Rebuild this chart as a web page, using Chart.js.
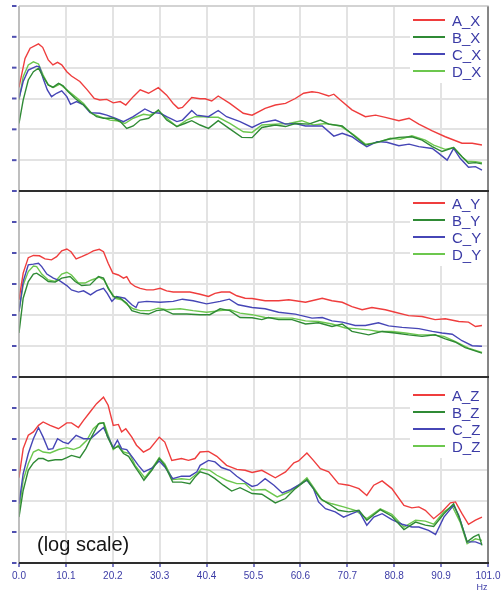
<!DOCTYPE html>
<html>
<head>
<meta charset="utf-8">
<script src="https://cdn.jsdelivr.net/npm/chart.js@4.4.0/dist/chart.umd.min.js"></script>
<style>
  html, body { margin: 0; padding: 0; background: #fff; }
  #wrap { position: relative; width: 504px; height: 591px; overflow: hidden; }
  canvas { position: absolute; left: 0; }
</style>
</head>
<body>
<div id="wrap">
  <canvas id="panelX"></canvas>
  <canvas id="panelY"></canvas>
  <canvas id="panelZ"></canvas>
</div>
<script>
// Data: [frequency Hz, level in grid divisions (log scale, bottom = 0)]
const A_X = [[0,3.36],[1.3,4.3],[2.4,4.63],[4.2,4.77],[5.1,4.66],[6.3,4.25],[7.3,4.09],[8.3,4.17],[9.2,4.09],[10.3,3.87],[11.3,3.73],[13.1,3.55],[14.7,3.28],[16.2,3.0],[17.4,2.95],[18.9,2.97],[20.3,2.86],[21.8,2.9],[23.0,2.79],[24.6,3.06],[26.1,3.28],[27.9,3.17],[30.0,3.35],[31.8,3.11],[33.2,2.84],[34.3,2.68],[35.2,2.71],[37.2,3.03],[39.0,2.99],[40.1,2.99],[41.5,2.92],[42.9,3.08],[45.4,2.84],[48.3,2.52],[50.2,2.46],[53.0,2.68],[55.2,2.79],[57.4,2.84],[59.5,3.0],[61.3,3.17],[63.1,3.22],[64.5,3.19],[66.7,3.08],[67.8,3.14],[69.2,2.95],[71.7,2.63],[74.6,2.41],[76.8,2.46],[78.9,2.39],[81.8,2.28],[84.0,2.36],[86.1,2.17],[89.0,1.95],[91.8,1.76],[95.4,1.55],[97.6,1.55],[99.7,1.49]];
const B_X = [[0,2.19],[0.9,2.95],[2.0,3.6],[3.1,3.87],[4.2,3.98],[5.2,3.71],[6.3,3.44],[7.3,3.36],[8.5,3.49],[9.5,3.41],[10.6,3.22],[12.1,3.0],[13.9,2.79],[15.3,2.57],[16.7,2.41],[18.2,2.36],[20.3,2.36],[21.8,2.25],[23.2,2.03],[24.6,2.11],[26.1,2.3],[27.9,2.36],[30.0,2.63],[31.8,2.3],[34.0,2.09],[35.7,2.19],[37.2,2.28],[39.0,2.14],[40.8,2.03],[42.9,2.28],[44.7,2.09],[48.0,1.74],[50.2,1.73],[52.3,2.06],[55.2,2.14],[57.4,2.09],[59.5,2.19],[62.4,2.17],[64.9,2.3],[66.7,2.17],[69.6,2.11],[72.4,1.76],[74.6,1.49],[76.8,1.57],[79.6,1.68],[81.8,1.74],[84.6,1.76],[86.8,1.65],[89.0,1.44],[91.1,1.28],[93.6,1.41],[95.4,1.11],[96.8,0.9],[98.3,0.92],[99.7,0.88]];
const C_X = [[0,3.0],[0.9,3.55],[2.0,3.92],[3.8,4.05],[4.4,4.03],[5.2,3.65],[6.1,3.28],[7.0,3.06],[8.1,3.17],[9.2,3.25],[10.3,3.06],[11.1,2.81],[12.4,2.9],[13.9,2.79],[15.3,2.54],[17.4,2.52],[18.9,2.46],[20.7,2.36],[22.5,2.25],[24.6,2.41],[27.1,2.66],[28.6,2.55],[30.4,2.52],[31.8,2.41],[34.0,2.25],[35.2,2.3],[37.2,2.61],[38.3,2.46],[40.8,2.41],[42.9,2.61],[44.7,2.41],[47.6,2.25],[50.2,2.06],[52.3,2.22],[55.2,2.3],[57.4,2.17],[59.5,2.19],[61.7,2.11],[65.3,2.11],[67.8,1.78],[69.6,1.87],[71.7,1.76],[73.2,1.6],[74.9,1.44],[77.1,1.6],[79.2,1.58],[81.8,1.47],[84.0,1.52],[86.1,1.44],[89.0,1.38],[90.4,1.22],[92.2,1.0],[93.6,1.38],[95.0,1.06],[96.8,0.77],[98.3,0.79],[99.7,0.68]];
const D_X = [[0,2.95],[0.9,3.71],[2.0,4.09],[3.1,4.19],[4.2,4.12],[5.2,3.76],[6.3,3.44],[7.4,3.36],[8.8,3.47],[10.3,3.28],[12.1,3.06],[13.9,2.84],[15.6,2.52],[17.4,2.41],[19.6,2.3],[21.0,2.28],[22.8,2.19],[24.6,2.36],[26.8,2.49],[28.2,2.46],[30.0,2.61],[31.8,2.36],[34.0,2.09],[36.1,2.3],[37.9,2.41],[39.7,2.41],[41.1,2.39],[42.9,2.39],[45.4,2.19],[48.3,1.92],[50.2,1.9],[52.3,2.14],[55.2,2.17],[58.1,2.19],[60.9,2.28],[63.4,2.14],[66.0,2.19],[69.2,2.11],[72.1,1.82],[74.6,1.52],[77.1,1.57],[80.0,1.71],[82.1,1.68],[84.6,1.79],[87.5,1.65],[89.3,1.49],[91.8,1.35],[93.6,1.41],[95.4,1.11],[96.5,0.97],[98.3,0.95],[99.7,0.92]];

const A_Y = [[0,2.49],[0.9,3.35],[2.0,3.85],[3.1,3.92],[4.4,3.91],[5.6,3.81],[7.0,3.78],[8.1,3.88],[9.2,4.07],[10.3,4.13],[11.2,4.04],[12.3,3.81],[13.5,3.88],[14.7,3.96],[16.0,4.07],[17.3,4.12],[18.2,4.04],[19.2,3.67],[20.2,3.35],[21.4,3.29],[22.5,3.19],[23.2,3.24],[24.0,3.03],[25.0,2.92],[26.1,2.86],[27.5,2.81],[28.9,2.81],[30.4,2.86],[31.8,2.78],[33.2,2.74],[35.0,2.74],[36.8,2.74],[39.0,2.67],[40.8,2.6],[42.2,2.7],[43.6,2.74],[45.4,2.74],[46.9,2.62],[48.7,2.54],[50.2,2.53],[53.0,2.46],[55.9,2.46],[58.1,2.49],[61.7,2.41],[65.3,2.54],[67.4,2.46],[69.6,2.41],[71.7,2.27],[73.9,2.17],[76.0,2.24],[78.9,2.17],[81.0,2.09],[83.9,1.98],[86.8,1.95],[89.6,1.85],[91.8,1.88],[94.7,1.79],[96.8,1.77],[98.3,1.63],[99.7,1.66]];
const B_Y = [[0,1.42],[0.9,2.54],[2.0,3.08],[3.1,3.32],[3.8,3.35],[4.9,3.24],[6.3,3.08],[7.8,3.06],[9.2,3.19],[11.0,3.24],[12.1,3.08],[13.5,2.95],[15.3,2.97],[17.1,3.24],[18.2,3.19],[19.2,2.86],[20.3,2.6],[21.8,2.54],[23.2,2.38],[24.3,2.14],[26.1,2.06],[27.9,2.03],[29.6,2.14],[31.1,2.17],[33.2,2.03],[36.1,2.03],[39.0,2.01],[41.1,2.01],[43.3,2.2],[45.4,2.14],[47.6,1.92],[50.2,1.91],[52.3,1.85],[53.7,1.92],[55.9,1.85],[58.8,1.85],[61.7,1.71],[64.5,1.75],[67.4,1.63],[69.6,1.71],[71.7,1.47],[75.3,1.36],[78.2,1.47],[81.0,1.42],[83.9,1.36],[86.8,1.31],[89.6,1.36],[91.8,1.23],[93.9,1.13],[96.1,0.95],[99.7,0.77]];
const C_Y = [[0,2.11],[0.9,3.08],[2.0,3.62],[3.1,3.64],[4.2,3.67],[4.9,3.56],[6.0,3.32],[7.4,3.19],[8.8,3.1],[10.3,2.95],[11.3,2.81],[12.8,2.74],[13.9,2.78],[15.4,2.65],[16.7,2.78],[18.2,2.86],[19.0,2.7],[20.0,2.44],[21.0,2.6],[22.8,2.54],[24.3,2.33],[25.2,2.24],[25.7,2.41],[27.5,2.44],[30.4,2.41],[33.2,2.44],[35.2,2.51],[37.5,2.46],[40.4,2.36],[43.3,2.44],[45.3,2.51],[47.2,2.33],[50.2,2.24],[53.0,2.2],[55.9,2.09],[59.5,2.03],[63.1,1.9],[65.3,1.92],[67.4,1.81],[69.6,1.77],[72.4,1.66],[74.6,1.66],[77.4,1.75],[79.6,1.65],[82.5,1.6],[86.1,1.56],[89.0,1.47],[91.1,1.42],[93.3,1.38],[95.4,1.17],[97.6,1.01],[99.7,0.99]];
const D_Y = [[0,2.11],[0.9,2.97],[2.0,3.4],[3.1,3.58],[3.8,3.56],[4.9,3.32],[6.3,3.13],[7.8,3.08],[9.2,3.32],[10.3,3.38],[11.3,3.29],[12.8,3.03],[14.2,3.03],[15.6,3.13],[17.3,3.22],[18.3,3.13],[19.5,2.81],[20.7,2.54],[22.1,2.49],[23.5,2.31],[24.6,2.2],[26.1,2.14],[28.2,2.14],[30.0,2.22],[31.8,2.17],[34.7,2.2],[37.5,2.14],[40.4,2.09],[43.3,2.14],[45.4,2.17],[47.6,2.06],[50.2,2.01],[53.0,1.92],[55.9,1.9],[58.8,1.9],[61.7,1.81],[64.5,1.79],[67.4,1.71],[70.3,1.58],[72.4,1.56],[75.3,1.52],[77.4,1.47],[80.3,1.47],[83.2,1.42],[86.1,1.36],[89.0,1.36],[91.5,1.31],[93.9,1.15],[96.8,0.93],[99.7,0.79]];

const A_Z = [[0,2.75],[0.9,3.69],[2.0,4.12],[3.1,4.23],[4.2,4.44],[5.2,4.55],[6.7,4.44],[8.5,4.33],[10.3,4.52],[11.3,4.52],[12.8,4.37],[13.9,4.6],[15.3,4.87],[16.7,5.14],[18.2,5.35],[19.2,5.09],[20.3,4.44],[21.4,4.47],[22.1,4.23],[23.0,4.33],[24.3,4.06],[25.3,3.8],[26.8,3.58],[28.2,3.69],[30.2,4.06],[31.4,3.9],[32.9,3.31],[35.0,3.37],[36.5,3.31],[37.9,3.37],[39.0,3.58],[40.8,3.6],[42.6,3.44],[44.7,3.15],[46.9,3.02],[48.7,2.99],[50.2,2.92],[52.3,2.99],[55.2,2.75],[57.4,2.94],[59.2,3.23],[60.2,3.29],[62.0,3.55],[63.4,3.31],[64.9,3.04],[66.7,2.94],[68.8,2.56],[71.0,2.51],[73.2,2.4],[74.9,2.18],[76.4,2.51],[78.2,2.65],[80.3,2.4],[82.9,1.86],[84.6,1.78],[86.1,1.81],[87.5,1.7],[89.3,1.43],[91.1,1.65],[92.9,1.94],[94.0,1.97],[95.4,1.59],[96.8,1.25],[98.3,1.38],[99.7,1.48]];
const B_Z = [[0,1.48],[0.9,2.34],[2.0,2.99],[3.1,3.23],[4.2,3.37],[5.2,3.37],[6.3,3.29],[7.8,3.33],[9.2,3.33],[10.3,3.4],[11.3,3.47],[13.1,3.4],[14.4,3.69],[15.6,4.06],[17.1,4.49],[18.2,4.52],[19.0,4.09],[20.3,3.69],[21.4,3.76],[22.5,3.53],[23.6,3.44],[25.0,3.1],[26.1,2.86],[26.9,2.67],[28.6,2.99],[30.2,3.37],[31.4,3.15],[33.1,2.61],[35.0,2.61],[36.8,2.56],[37.9,2.77],[39.0,2.94],[40.8,2.86],[42.2,2.72],[44.0,2.51],[45.8,2.32],[47.6,2.43],[50.2,2.24],[52.3,2.22],[55.2,1.94],[57.4,2.08],[59.5,2.4],[62.0,2.69],[63.4,2.4],[64.9,2.08],[66.7,1.91],[68.8,1.7],[71.0,1.65],[73.2,1.7],[74.9,1.38],[77.8,1.72],[80.3,1.51],[82.9,1.08],[85.4,1.32],[87.5,1.22],[89.3,1.18],[91.5,1.59],[93.6,1.91],[95.0,1.38],[96.5,0.68],[97.9,0.84],[99.0,0.92],[99.7,0.57]];
const C_Z = [[0,1.91],[0.9,2.88],[2.0,3.53],[3.1,4.01],[4.2,4.37],[5.2,4.06],[6.3,3.66],[7.3,3.69],[8.3,4.01],[9.5,3.9],[10.6,3.85],[12.3,4.12],[13.9,4.01],[15.4,4.01],[17.1,4.23],[18.2,4.37],[19.2,4.06],[20.3,3.72],[21.2,3.96],[22.1,3.69],[23.2,3.66],[24.5,3.4],[25.7,3.15],[26.9,2.94],[28.6,3.06],[30.2,3.29],[31.4,3.1],[33.1,2.72],[35.0,2.8],[36.8,2.8],[38.3,2.94],[39.0,3.15],[40.8,3.31],[42.2,3.26],[43.6,3.08],[45.4,2.99],[46.9,2.8],[48.7,2.61],[50.2,2.47],[51.3,2.51],[53.0,2.72],[54.9,2.51],[56.7,2.26],[58.5,2.37],[60.2,2.51],[62.0,2.67],[63.4,2.4],[64.5,1.97],[66.0,1.75],[68.1,1.65],[69.9,1.48],[71.7,1.59],[73.2,1.68],[74.9,1.22],[76.4,1.48],[78.2,1.59],[80.3,1.4],[82.5,1.25],[84.6,1.16],[86.1,1.16],[88.2,1.05],[89.7,0.92],[91.5,1.48],[93.6,1.86],[94.7,1.54],[96.5,0.68],[98.3,0.68],[99.7,0.6]];
const D_Z = [[0,1.7],[0.9,2.67],[2.0,3.2],[3.1,3.58],[4.2,3.66],[5.2,3.58],[6.7,3.55],[8.5,3.66],[10.3,3.72],[11.7,3.66],[13.1,3.74],[14.6,3.96],[16.0,4.33],[17.4,4.52],[18.3,4.52],[19.2,4.12],[20.3,3.66],[21.4,3.8],[22.5,3.58],[23.8,3.53],[25.0,3.15],[26.1,2.94],[27.1,2.75],[28.6,3.04],[30.2,3.4],[31.4,3.2],[33.1,2.69],[35.0,2.72],[36.8,2.69],[38.3,2.88],[39.3,3.04],[41.1,2.99],[42.6,2.83],[44.7,2.67],[46.9,2.56],[48.7,2.56],[50.2,2.35],[53.0,2.37],[55.6,2.13],[58.1,2.29],[60.2,2.51],[62.0,2.75],[63.4,2.45],[65.3,2.02],[67.4,1.91],[69.9,1.81],[72.4,1.7],[74.9,1.43],[77.8,1.75],[80.3,1.57],[82.9,1.16],[85.4,1.38],[87.5,1.35],[89.3,1.25],[91.5,1.65],[93.3,1.83],[95.0,1.32],[96.5,0.62],[98.3,0.78],[99.7,0.73]];

const xTicks = [0, 10.1, 20.2, 30.3, 40.4, 50.5, 60.6, 70.7, 80.8, 90.9, 101.0];
const seriesNames = ['A', 'B', 'C', 'D'];

// Styles
const lineColors = ['#ef3d3d', '#2f8a35', '#4646b6', '#6cc74e'];
const textBlue = '#3b3ba6';
const gridColor = '#e3e3e3';

// Draws legend, frame, y tick dashes and notes
const panelDeco = {
  id: 'panelDeco',
  afterDraw(chart, args, opts) {
    const ctx = chart.ctx;
    const a = chart.chartArea;
    const yScale = chart.scales.y;
    ctx.save();

    // legend
    ctx.fillStyle = '#fff';
    ctx.fillRect(410, a.top + 1, a.right - 411, opts.legendTop + 62);
    chart.data.datasets.forEach((ds, i) => {
      const y = a.top + opts.legendTop + i * 17;
      ctx.strokeStyle = ds.borderColor;
      ctx.lineWidth = 2;
      ctx.beginPath();
      ctx.moveTo(413, y);
      ctx.lineTo(445, y);
      ctx.stroke();
      ctx.fillStyle = textBlue;
      ctx.font = '15px "Liberation Sans", Arial, sans-serif';
      ctx.textBaseline = 'alphabetic';
      ctx.fillText(ds.label, 452, y + 6);
    });

    // frame
    ctx.lineWidth = 1.2;
    ctx.strokeStyle = '#a6a6a6';
    ctx.beginPath();
    ctx.moveTo(a.left, a.top);
    ctx.lineTo(a.left, a.bottom);
    ctx.stroke();
    ctx.strokeStyle = '#6e6e6e';
    ctx.lineWidth = 1.6;
    ctx.beginPath();
    ctx.moveTo(a.right, a.top);
    ctx.lineTo(a.right, a.bottom);
    ctx.stroke();
    ctx.strokeStyle = opts.topColor;
    ctx.lineWidth = opts.topWidth;
    ctx.beginPath();
    ctx.moveTo(a.left, a.top);
    ctx.lineTo(a.right + 1, a.top);
    ctx.stroke();
    ctx.strokeStyle = '#2e2e2e';
    ctx.lineWidth = 2;
    ctx.beginPath();
    ctx.moveTo(a.left, a.bottom);
    ctx.lineTo(a.right + 1, a.bottom);
    ctx.stroke();

    // y tick dashes
    ctx.fillStyle = '#5050b0';
    yScale.ticks.forEach(t => {
      const py = yScale.getPixelForValue(t.value);
      ctx.fillRect(12, py - 1, 4.5, 2);
    });

    if (opts.note) {
      ctx.fillStyle = '#151515';
      ctx.font = '20px "Liberation Sans", Arial, sans-serif';
      ctx.textBaseline = 'alphabetic';
      ctx.textAlign = 'left';
      ctx.fillText(opts.note, 37, a.bottom - 12);
    }
    if (opts.unit) {
      ctx.fillStyle = textBlue;
      ctx.font = '9px "Liberation Sans", sans-serif';
      ctx.textAlign = 'center';
      ctx.textBaseline = 'middle';
      ctx.fillText(opts.unit, 482, a.bottom + 25);
    }
    ctx.restore();
  }
};

function makePanel(id, axisName, dataList, top, height, padTop, xHeight, showLabels, deco) {
  const el = document.getElementById(id);
  el.width = 504;
  el.height = height;
  el.style.top = top + 'px';
  el.style.width = '504px';
  el.style.height = height + 'px';

  return new Chart(el, {
    type: 'line',
    data: {
      datasets: seriesNames.map((s, i) => ({
        label: s + '_' + axisName,
        data: dataList[i].map(p => ({ x: p[0], y: p[1] })),
        borderColor: lineColors[i],
        borderWidth: 1.4,
        pointRadius: 0,
        tension: 0,
        fill: false
      }))
    },
    options: {
      responsive: false,
      animation: false,
      layout: { padding: { left: 0, right: 16, top: padTop, bottom: 0 } },
      plugins: {
        legend: { display: false },
        tooltip: { enabled: false },
        panelDeco: deco
      },
      scales: {
        x: {
          type: 'linear',
          min: 0,
          max: 101,
          afterBuildTicks: s => { s.ticks = xTicks.map(v => ({ value: v })); },
          afterFit: s => { s.height = xHeight; },
          border: { display: false },
          grid: { color: gridColor, lineWidth: 2, drawTicks: showLabels, tickLength: 4, tickColor: '#5050b0', tickWidth: 1.5 },
          ticks: {
            display: showLabels,
            maxRotation: 0,
            autoSkip: false,
            padding: 3,
            color: textBlue,
            font: { family: '"Liberation Sans", Arial, sans-serif', size: 10 },
            callback: v => Number(v).toFixed(1)
          }
        },
        y: {
          min: 0,
          max: 6,
          ticks: { display: false, stepSize: 1 },
          grid: { color: gridColor, lineWidth: 2, drawTicks: false },
          border: { display: false },
          afterFit: s => { s.width = 19; }
        }
      }
    },
    plugins: [panelDeco]
  });
}

makePanel('panelX', 'X', [A_X, B_X, C_X, D_X], 0, 194, 6, 3, false, { legendTop: 14, topColor: '#c4c4c4', topWidth: 1.2 });
makePanel('panelY', 'Y', [A_Y, B_Y, C_Y, D_Y], 189, 191, 2, 3, false, { legendTop: 12, topColor: '#2e2e2e', topWidth: 2 });
makePanel('panelZ', 'Z', [A_Z, B_Z, C_Z, D_Z], 375, 216, 2, 28, true, { legendTop: 18, topColor: '#2e2e2e', topWidth: 2, note: '(log scale)', unit: 'Hz' });
</script>
</body>
</html>
